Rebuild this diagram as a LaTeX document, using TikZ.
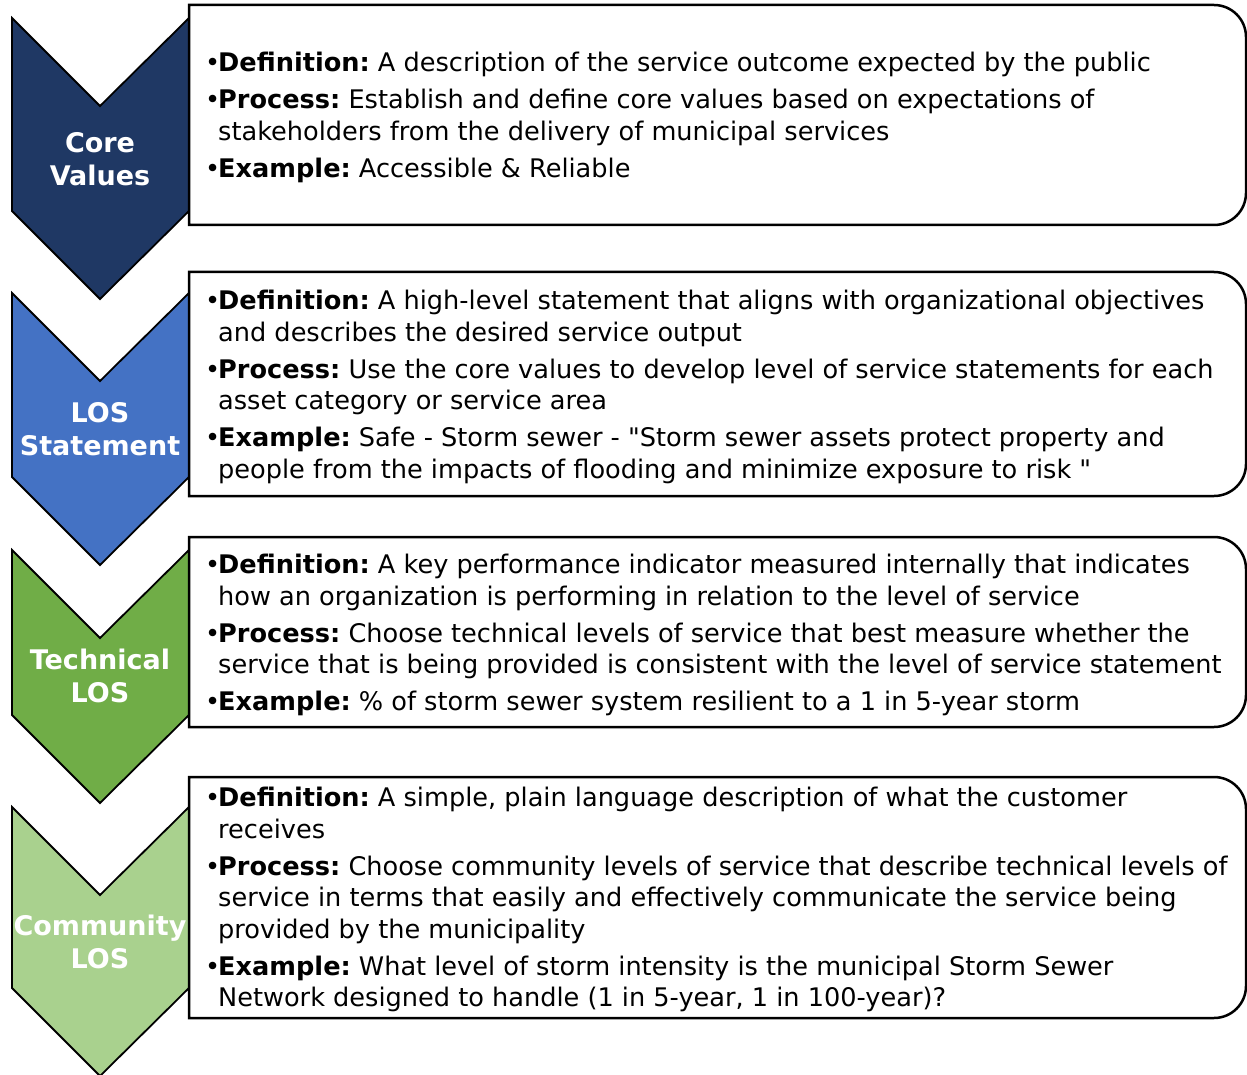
\documentclass[tikz,border=0pt]{standalone}
\usepackage{fontspec}
\setmainfont{DejaVu Sans}
\newfontfamily\djv{DejaVu Sans}
\definecolor{cvnavy}{HTML}{1F3864}
\definecolor{cvblue}{HTML}{4472C4}
\definecolor{cvgreen}{HTML}{70AD47}
\definecolor{cvlight}{HTML}{A9D18E}
\newlength{\bulw}
\setlength{\bulw}{13pt}
\newcommand{\itm}[2]{\par\hangindent=\bulw\hangafter=1\noindent\makebox[\bulw][l]{•}\textbf{#1:} #2}
\newcommand{\bodytext}[1]{\parbox[t]{1030pt}{\djv\fontsize{25.6pt}{31.6pt}\selectfont\frenchspacing\setlength{\parskip}{5.4pt}\raggedright #1}}
\tikzset{
  chev/.style={draw=black, line width=1.8pt, line join=miter},
  infobox/.style={draw=black, line width=2.5pt, fill=white},
  chevlabel/.style={text=white, font=\djv\fontsize{27pt}{33.5pt}\selectfont\bfseries, align=center, inner sep=0pt},
  bodynode/.style={anchor=base west, inner sep=0pt}
}
\begin{document}
\begin{tikzpicture}[x=1pt,y=-1pt]
\useasboundingbox (0,0) rectangle (1247,1075);
% chevrons: top y T, bottom-left y B
\foreach \T/\B/\col/\nm in {18/211/cvnavy/a, 293/477/cvblue/b, 550/715/cvgreen/c, 807/988/cvlight/d}{
  \draw[chev, fill=\col] (12,\T) -- (100,\T+88) -- (189,\T) -- (189,\B) -- (100,\B+88) -- (12,\B) -- cycle;
}
% boxes
\foreach \T/\B in {5/225, 272/496, 537/727, 777/1018}{
  \draw[infobox] (189,\T) -- (1214,\T) arc[start angle=-90,end angle=0,radius=32] -- (1246,\B-32) arc[start angle=0,end angle=90,radius=32] -- (189,\B) -- cycle;
}
% chevron labels
\node[chevlabel] (lab1) at (100,159) {Core\\Values};
\node[chevlabel] (lab2) at (100,429) {LOS\\Statement};
\node[chevlabel] (lab3) at (100,676) {Technical\\LOS};
\node[chevlabel] (lab4) at (100,942) {Community\\LOS};
% body texts
\node[bodynode] (txt1) at (205,71.5) {\bodytext{%
\itm{Definition}{A description of the service outcome expected by the public}
\itm{Process}{Establish and define core values based on expectations of\newline stakeholders from the delivery of municipal services}
\itm{Example}{Accessible \& Reliable}}};
\node[bodynode] (txt2) at (205,309.5) {\bodytext{%
\itm{Definition}{A high-level statement that aligns with organizational objectives\newline and describes the desired service output}
\itm{Process}{Use the core values to develop level of service statements for each\newline asset category or service area}
\itm{Example}{Safe - Storm sewer - "Storm sewer assets protect property and\newline people from the impacts of flooding and minimize exposure to risk "}}};
\node[bodynode] (txt3) at (205,573.5) {\bodytext{%
\itm{Definition}{A key performance indicator measured internally that indicates\newline how an organization is performing in relation to the level of service}
\itm{Process}{Choose technical levels of service that best measure whether the\newline service that is being provided is consistent with the level of service statement}
\itm{Example}{\% of storm sewer system resilient to a 1 in 5-year storm}}};
\node[bodynode] (txt4) at (205,806.5) {\bodytext{%
\itm{Definition}{A simple, plain language description of what the customer\newline receives}
\itm{Process}{Choose community levels of service that describe technical levels of\newline service in terms that easily and effectively communicate the service being\newline provided by the municipality}
\itm{Example}{What level of storm intensity is the municipal Storm Sewer\newline Network designed to handle (1 in 5-year, 1 in 100-year)?}}};
\end{tikzpicture}
\end{document}
